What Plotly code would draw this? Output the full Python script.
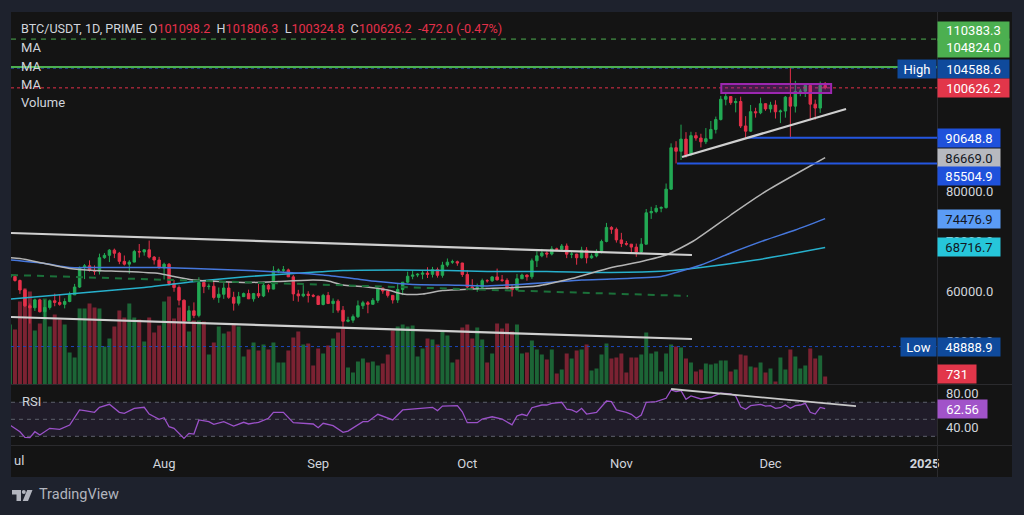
import plotly.graph_objects as go
from datetime import datetime, timedelta

# ---------------- DATA ----------------
start_date = datetime(2024, 7, 1)

opens = [
    62770, 62900, 62100, 60200, 57040, 56640, 58230, 55850, 56710, 58050, 57720, 57330, 57900, 59230, 60790, 64720,
    65040, 64090, 63970, 66660, 67140, 68170, 67550, 65930, 65370, 65780, 67900, 67810, 68240, 66780, 66190,
    64630, 65350, 61500, 60700, 58160, 54020, 56040, 55120, 61700, 60880, 60950, 58710, 59350, 60600, 58740, 57560,
    58870, 59480, 58430, 59480, 59010, 61160, 60380, 64040, 64160, 64220, 62830, 59420, 59030, 59370, 59120,
    58970, 57300, 59130, 57490, 57970, 56160, 53950, 54160, 54870, 57050, 57650, 57340, 58130, 60570, 60010,
    59130, 58210, 60310, 61760, 62950, 63200, 63350, 63580, 63330, 64260, 63140, 65180, 65770, 65860, 65600,
    63300, 60810, 60630, 60750, 62070, 62050, 62820, 62220, 62130, 60580, 60270, 62450, 63190, 62850, 66050, 67040,
    67610, 67400, 68420, 68360, 69000, 67370, 67380, 66650, 68160, 66640, 67010, 67930, 69910, 72720, 72340,
    70220, 69500, 69370, 68780, 67810, 69360, 75640, 75900, 76550, 76680, 80370, 88650, 87950, 90380, 87250,
    91070, 90590, 89850, 90460, 92310, 94290, 98350, 98890, 97670, 97900, 93010, 91970, 95860, 95640, 97460,
    96410, 97190, 95840, 96000, 98770, 96970, 99920, 99950, 101110, 97360, 96590, 101098.2,
]
highs = [
    63860, 63290, 62290, 60500, 57500, 58470, 58470, 58240, 58300, 59470, 59360, 58530, 59850, 61420, 64900, 65390,
    66130, 65120, 67470, 67600, 68370, 68480, 67820, 67100, 66170, 68230, 69400, 68320, 70080, 67000, 66830,
    65660, 65600, 62200, 61120, 58310, 57040, 57720, 62750, 61800, 61470, 61860, 60700, 61580, 61800, 59850, 59820,
    59690, 60270, 59620, 61400, 61820, 61420, 64960, 64500, 65000, 64480, 63210, 60230, 61170, 59950, 59430,
    59070, 59430, 59810, 58520, 58330, 56990, 54850, 55310, 58100, 58040, 57990, 58590, 60670, 60660, 60380,
    59210, 61380, 61790, 63870, 64130, 63560, 64000, 64750, 64820, 64700, 65840, 66500, 66260, 66080, 65620,
    64130, 62370, 61470, 62480, 62370, 62970, 64480, 63200, 62540, 61320, 63420, 63480, 63290, 66500, 67950, 68420,
    67940, 68970, 68670, 69400, 69500, 67840, 67450, 68850, 68770, 67470, 68340, 70270, 73620, 72960, 72700,
    71630, 70000, 69400, 69480, 70580, 76400, 76850, 77200, 76950, 81500, 89530, 89960, 93270, 91770, 91850,
    91780, 91450, 92590, 94000, 94880, 99030, 99590, 98970, 98560, 98870, 94970, 97210, 96650, 98670, 97500,
    97840, 98150, 96300, 99000, 104588.6, 102040, 100440, 101400, 101220, 98270, 101890, 101806.3,
]
lows = [
    62500, 61860, 59420, 56770, 53480, 56020, 55720, 54260, 56280, 56950, 57050, 56530, 57750, 59200, 60630, 62380,
    63890, 63220, 63300, 66440, 65780, 66570, 65360, 65100, 63460, 65740, 66690, 67070, 66500, 65300, 64500,
    62300, 61100, 59850, 57120, 48888.9, 53970, 54560, 54730, 59570, 60270, 58290, 57640, 58430, 58430, 56080, 57100,
    58790, 58410, 57870, 58610, 58780, 59720, 60340, 63590, 63790, 62800, 58030, 57860, 58750, 57700, 58740,
    57200, 57120, 57420, 55610, 55670, 52550, 53740, 53630, 54600, 56390, 55550, 57320, 57630, 59450, 58700,
    57490, 57610, 59170, 61570, 62350, 62770, 62360, 62600, 62700, 62680, 62670, 64810, 65420, 65050, 62820,
    60160, 60460, 59830, 60460, 61670, 61820, 62130, 61820, 60310, 58900, 60050, 62430, 62060, 62420, 64800, 66750,
    66670, 67120, 68020, 68110, 66570, 66570, 65260, 66500, 65520, 66450, 66740, 67520, 69730, 71440, 69680,
    68780, 69060, 67480, 66840, 67460, 69320, 74420, 75560, 75750, 76490, 80220, 85504.9, 86210, 86670, 87100,
    90060, 88720, 89380, 90370, 91500, 94110, 97130, 97240, 95730, 92600, 90648.8, 91810, 94680, 95360, 96050,
    95690, 94500, 93580, 94660, 90500, 95700, 98950, 98800, 94150, 94260, 95620, 100324.8,
]
closes = [
    62900, 62100, 60200, 57040, 56640, 58230, 55850, 56710, 58050, 57720, 57330, 57900, 59230, 60790, 64720, 65040,
    64090, 63970, 66660, 67140, 68170, 67550, 65930, 65370, 65780, 67900, 67810, 68240, 66780, 66190, 64630,
    65350, 61500, 60700, 58160, 54020, 56040, 55120, 61700, 60880, 60950, 58710, 59350, 60600, 58740, 57560, 58870,
    59480, 58430, 59480, 59010, 61160, 60380, 64040, 64160, 64220, 62830, 59420, 59030, 59370, 59120, 58970,
    57300, 59130, 57490, 57970, 56160, 53950, 54160, 54870, 57050, 57650, 57340, 58130, 60570, 60010, 59130,
    58210, 60310, 61760, 62950, 63200, 63350, 63580, 63330, 64260, 63140, 65180, 65770, 65860, 65600, 63300,
    60810, 60630, 60750, 62070, 62050, 62820, 62220, 62130, 60580, 60270, 62450, 63190, 62850, 66050, 67040, 67610,
    67400, 68420, 68360, 69000, 67370, 67380, 66650, 68160, 66640, 67010, 67930, 69910, 72720, 72340, 70220,
    69500, 69370, 68780, 67810, 69360, 75640, 75900, 76550, 76680, 80370, 88650, 87950, 90380, 87250, 91070,
    90590, 89850, 90460, 92310, 94290, 98350, 98890, 97670, 97900, 93010, 91970, 95860, 95640, 97460, 96410,
    97190, 95840, 96000, 98770, 96970, 99920, 99950, 101110, 97360, 96590, 101098.2, 100626.2,
]
volumes = [
    5460, 5005, 7553, 8736, 8463, 4914, 5551, 7826, 5278, 6370, 5915, 5460, 2912, 2457, 6916, 6916,
    7371, 7007, 6916, 3458, 4186, 5278, 6734, 6097, 7371, 6097, 5915, 3913, 6097, 4732, 5369,
    7553, 8008, 6006, 7007, 7644, 4823, 5824, 5824, 5733, 2730, 3822, 5278, 4641, 4823, 5460, 5278,
    2548, 3185, 3822, 3094, 3640, 3185, 3822, 2002, 2002, 3094, 4277, 4823, 3640, 3731, 1729,
    3276, 2821, 3549, 4186, 4732, 5096, 1547, 1092, 2093, 2366, 2002, 2093, 1729, 1911, 2730,
    4914, 5278, 5460, 5278, 5369, 2548, 3276, 4186, 4095, 3640, 4823, 4459, 2002, 2275, 5187,
    5460, 4186, 5187, 4095, 2002, 2821, 5551, 5096, 5551, 4823, 5460, 2821, 2912, 4004, 3185, 2730,
    2275, 3185, 1001, 1365, 2821, 2366, 3094, 3185, 3640, 1274, 1456, 2730, 3731, 2366, 2457,
    2821, 1092, 2457, 2457, 2730, 4732, 2821, 3003, 1183, 2821, 3640, 3458, 3367, 2366, 2002,
    1183, 1365, 1911, 1820, 1911, 2184, 2184, 1183, 1365, 2730, 2639, 1638, 1547, 2002, 1092,
    1456, 273, 2457, 1365, 3185, 2548, 1456, 1729, 3276, 2366, 2639, 731,
]

# moving averages (day offset from 1 Jul 2024, price)
ma50_days = [0, 2, 7, 12, 17, 23, 30, 33, 37, 42, 48, 54, 61, 64, 67, 71, 76, 79, 83, 87, 93, 96, 106, 113,
             121, 127, 132, 137.5, 145, 152, 159, 164]
ma50_vals = [66660, 66500, 65500, 64500, 64100, 63900, 63500, 62900, 62200, 61900, 61700, 61900, 62200, 62000,
             61200, 60900, 60200, 59400, 59400, 60100, 60400, 60500, 61000, 62500, 64700, 65900, 67200, 70000,
             75200, 79900, 83900, 86669.0]
ma100_days = [0, 7, 12, 17, 23, 30, 37, 48, 56, 63, 69, 74, 81, 88, 96, 108, 115, 121, 131, 134, 139, 145,
              152, 158, 164]
ma100_vals = [66200, 65500, 64700, 64700, 64700, 64700, 64500, 64100, 63700, 63200, 62500, 61900, 61300, 61200,
              61000, 61700, 62200, 62400, 62900, 63700, 65200, 67600, 70200, 72200, 74476.9]
ma200_days = [0, 13, 27, 38, 48, 57, 67, 78, 88, 96, 108, 121, 132, 139, 150, 157, 164]
ma200_vals = [58400, 59500, 60700, 62000, 62900, 63500, 64100, 64200, 64100, 63900, 63900, 63700, 64000, 64700,
              66200, 67400, 68716.7]

rsi_days = [0, 2, 3, 4, 5, 6, 8, 10, 12, 14, 15, 17, 18, 20, 22, 23, 25, 27, 28, 30, 31, 32, 33, 35, 36, 37,
            38, 40, 41, 43, 45, 47, 48, 50, 52, 53, 55, 57, 61, 62, 63, 65, 67, 68, 71, 72, 74, 77, 79, 84, 85,
            86, 87, 90, 91, 92, 94, 95, 97, 99, 101, 102, 103, 104, 105, 107, 108, 109, 111, 112, 113, 114, 115,
            116, 118, 120, 121, 122, 124, 125, 126, 127, 128, 130, 132, 133, 134, 135, 136, 137, 139, 141, 143,
            145, 146, 147, 148, 149, 151, 152, 153, 154, 155, 156, 157, 158, 159, 160, 161, 162, 163, 164]
rsi_vals = [43.3, 35.4, 28.8, 28.4, 35.4, 31.5, 39.4, 38.2, 43.3, 61.0, 60.2, 58.2, 64.1, 67.6, 58.2, 57.0,
            62.9, 64.1, 56.2, 50.0, 51.9, 41.3, 39.4, 27.6, 33.5, 32.7, 49.2, 47.2, 44.1, 47.2, 42.1, 46.5,
            44.5, 46.5, 51.2, 58.2, 58.2, 46.0, 44.5, 40.1, 45.3, 42.5, 34.7, 36.2, 47.2, 47.2, 55.9, 49.2,
            61.0, 62.9, 64.1, 60.2, 65.6, 66.0, 58.9, 46.0, 46.0, 50.3, 53.0, 50.3, 43.5, 53.9, 55.9, 54.2,
            63.6, 66.8, 66.8, 68.8, 70.0, 61.8, 61.0, 58.2, 62.9, 56.2, 58.2, 71.5, 70.7, 61.0, 58.2, 55.9,
            51.2, 55.1, 70.0, 70.7, 74.7, 84.5, 82.5, 83.6, 73.5, 77.4, 73.9, 75.9, 80.6, 79.8, 77.4, 64.8,
            61.8, 66.0, 67.6, 65.6, 66.0, 62.9, 63.6, 66.8, 62.9, 66.0, 66.8, 68.8, 58.2, 56.2, 64.0, 62.56]

# drawings (day offset, value)
channel_upper = [(0.2, 71600), (137.2, 67200)]
channel_lower = [(0.2, 54800), (137.2, 50400)]
dashed_trend = [(0.2, 63200), (136.4, 59000)]
rising_support = [(135.2, 86800), (168.2, 96400)]
rsi_trend = [(133.0, 85.6), (170.2, 65.6)]
purple_zone = [(143.1, 99600), (165.2, 101400)]

target_levels = [110383.3, 104824.0]
high_level = 104588.6
low_level = 48888.9
support_levels = [90648.8, 85504.9]
support_start_days = [148.3, 134.2]

month_ticks = ["2024-08-01", "2024-09-01", "2024-10-01", "2024-11-01", "2024-12-01", "2025-01-01"]
month_labels = ["Aug", "Sep", "Oct", "Nov", "Dec", "<b>2025</b>"]
price_ticks = [50000, 60000, 70000, 80000]
rsi_ticks = [40, 80]
rsi_bands = [70, 50, 30]

# ---------------- HELPERS ----------------
W, H = 1024, 515
ML, MR, MT, MB = 11, 87, 12, 70
PW, PH = W - ML - MR, H - MT - MB


def day(d):
    return start_date + timedelta(days=d)


def pxx(x):
    return (x - ML) / PW


def pxy(y):
    return (H - MB - y) / PH


OUTER = "#1e222d"
PANEL = "#141414"
TXT = "#d1d4dc"
UP, DOWN = "#22a954", "#e5304a"
VUP, VDOWN = "#1c6536", "#7b2232"
FONT = "Roboto"

main_bottom = pxy(384.5)
x_range = [day(0.2), day(186.5)]
dates = [day(i) for i in range(len(closes))]

fig = go.Figure()

# volume on the base axis (drawn beneath)
vcol = [VUP if c >= o else VDOWN for o, c in zip(opens, closes)]
fig.add_trace(go.Bar(x=dates, y=volumes, marker=dict(color=vcol, line=dict(width=0)),
                     width=0.8 * 86400000, xaxis="x", yaxis="y", hoverinfo="skip"))

# candles on the overlaying price axis
fig.add_trace(go.Candlestick(
    x=dates, open=opens, high=highs, low=lows, close=closes, xaxis="x", yaxis="y2",
    increasing=dict(line=dict(color=UP, width=1), fillcolor=UP),
    decreasing=dict(line=dict(color=DOWN, width=1), fillcolor=DOWN),
    whiskerwidth=0, hoverinfo="skip"))

for dd, vv, col in [(ma200_days, ma200_vals, "#27b0cc"), (ma100_days, ma100_vals, "#4677dc"),
                    (ma50_days, ma50_vals, "#b4b4b4")]:
    fig.add_trace(go.Scatter(x=[day(d) for d in dd], y=vv, mode="lines", xaxis="x", yaxis="y2",
                             line=dict(color=col, width=1.5, shape="spline", smoothing=0.6),
                             hoverinfo="skip"))

fig.add_trace(go.Scatter(x=[day(d) for d in rsi_days], y=rsi_vals, mode="lines", xaxis="x", yaxis="y3",
                         line=dict(color="#9b51c9", width=1.3), hoverinfo="skip"))

shapes = []
# panel background
shapes.append(dict(type="rect", xref="paper", yref="paper", x0=pxx(11), x1=pxx(1012), y0=pxy(477), y1=pxy(12),
                   fillcolor=PANEL, line=dict(width=0), layer="below"))
# RSI band
shapes.append(dict(type="rect", xref="paper", yref="y3", x0=0, x1=1, y0=rsi_bands[2], y1=rsi_bands[0],
                   fillcolor="rgba(126,87,194,0.12)", line=dict(width=0), layer="below"))
for b in rsi_bands:
    shapes.append(dict(type="line", xref="paper", yref="y3", x0=0, x1=1, y0=b, y1=b,
                       line=dict(color="#5d606b", width=1, dash="4px,4px"), layer="below"))

# horizontal levels
shapes.append(dict(type="line", xref="paper", yref="y2", x0=0, x1=1, y0=target_levels[0], y1=target_levels[0],
                   line=dict(color="#4caf50", width=1, dash="5px,5px")))
shapes.append(dict(type="line", xref="paper", yref="y2", x0=0, x1=1, y0=high_level, y1=high_level,
                   line=dict(color="#2a5bd8", width=1, dash="dot")))
shapes.append(dict(type="line", xref="paper", yref="y2", x0=0, x1=1, y0=target_levels[1], y1=target_levels[1],
                   line=dict(color="#4caf50", width=2)))
shapes.append(dict(type="line", xref="paper", yref="y2", x0=0, x1=1, y0=closes[-1], y1=closes[-1],
                   line=dict(color="#e5304a", width=1, dash="dot")))
shapes.append(dict(type="line", xref="paper", yref="y2", x0=0, x1=1, y0=low_level, y1=low_level,
                   line=dict(color="#1b47b8", width=1, dash="dot")))
for lv, sd in zip(support_levels, support_start_days):
    shapes.append(dict(type="line", xref="x", yref="y2", x0=day(sd), x1=x_range[1], y0=lv, y1=lv,
                       line=dict(color="#2456e0", width=2)))

# drawn trend lines
for seg in (channel_upper, channel_lower, rising_support):
    shapes.append(dict(type="line", xref="x", yref="y2", x0=day(seg[0][0]), y0=seg[0][1],
                       x1=day(seg[1][0]), y1=seg[1][1], line=dict(color="#cfcfcf", width=2.2)))
shapes.append(dict(type="line", xref="x", yref="y2", x0=day(dashed_trend[0][0]), y0=dashed_trend[0][1],
                   x1=day(dashed_trend[1][0]), y1=dashed_trend[1][1],
                   line=dict(color="#1b7039", width=2, dash="7px,6px")))
shapes.append(dict(type="line", xref="x", yref="y3", x0=day(rsi_trend[0][0]), y0=rsi_trend[0][1],
                   x1=day(rsi_trend[1][0]), y1=rsi_trend[1][1], line=dict(color="#c8c8c8", width=1.8)))
shapes.append(dict(type="rect", xref="x", yref="y2", x0=day(purple_zone[0][0]), y0=purple_zone[0][1],
                   x1=day(purple_zone[1][0]), y1=purple_zone[1][1],
                   fillcolor="rgba(156,39,176,0.35)", line=dict(color="#9c27b0", width=2)))

# separators
SEP = "#2b2b2e"
shapes.append(dict(type="line", xref="paper", yref="paper", x0=pxx(11), x1=pxx(1012), y0=main_bottom,
                   y1=main_bottom, line=dict(color=SEP, width=1)))
shapes.append(dict(type="line", xref="paper", yref="paper", x0=pxx(11), x1=pxx(1012), y0=pxy(445.5),
                   y1=pxy(445.5), line=dict(color=SEP, width=1)))
shapes.append(dict(type="line", xref="paper", yref="paper", x0=pxx(937.5), x1=pxx(937.5), y0=pxy(477),
                   y1=pxy(12), line=dict(color=SEP, width=1)))

# TradingView logo mark
LOGO = "#b2b5be"


def ppath(pts):
    return "M " + " L ".join(f"{pxx(a):.5f},{pxy(b):.5f}" for a, b in pts) + " Z"


shapes.append(dict(type="path", xref="paper", yref="paper",
                   path=ppath([(12, 490), (21, 490), (21, 501), (16.5, 501), (16.5, 494.5), (12, 494.5)]),
                   fillcolor=LOGO, line=dict(width=0)))
shapes.append(dict(type="circle", xref="paper", yref="paper", x0=pxx(21.8), x1=pxx(25.8), y0=pxy(494),
                   y1=pxy(490), fillcolor=LOGO, line=dict(width=0)))
shapes.append(dict(type="path", xref="paper", yref="paper",
                   path=ppath([(27.2, 490), (32.5, 490), (28, 501), (22.7, 501)]),
                   fillcolor=LOGO, line=dict(width=0)))

annotations = []


def box(text, yref, y, bg, fg, w, yshift=0, left=True, h=18):
    annotations.append(dict(
        text=text, xref="paper", x=pxx(937.5) if left else pxx(937), xanchor="left" if left else "right",
        yref=yref, y=y, yanchor="middle", yshift=yshift, showarrow=False, width=w, height=h,
        bgcolor=bg, borderpad=0, font=dict(family=FONT, size=13, color=fg), align="center",
        valign="middle"))


# right-side price labels
box(f"{target_levels[0]:.1f}", "y2", target_levels[0], "#4caf50", "#ffffff", 71, yshift=8.3, h=17.5)
box(f"{target_levels[1]:.1f}", "y2", target_levels[1], "#4caf50", "#ffffff", 71, yshift=18.6, h=17.5)
box(f"{high_level:.1f}", "y2", high_level, "#0f4a9c", "#ffffff", 71, yshift=-0.9)
box("High", "y2", high_level, "#0f4a9c", "#ffffff", 38, yshift=-0.9, left=False)
box(f"{closes[-1]:.1f}", "y2", closes[-1], "#e2364a", "#ffffff", 71)
box(f"{support_levels[0]:.1f}", "y2", support_levels[0], "#1f51db", "#ffffff", 62)
box(f"{ma50_vals[-1]:.1f}", "y2", ma50_vals[-1], "#b7b9bf", "#131722", 62)
box(f"{support_levels[1]:.1f}", "y2", support_levels[1], "#1f51db", "#ffffff", 62, yshift=-12.5)
box(f"{ma100_vals[-1]:.1f}", "y2", ma100_vals[-1], "#5b9cf6", "#131722", 62)
box(f"{ma200_vals[-1]:.1f}", "y2", ma200_vals[-1], "#26c6da", "#131722", 62)
box(f"{low_level:.1f}", "y2", low_level, "#0f4a9c", "#ffffff", 62)
box("Low", "y2", low_level, "#0f4a9c", "#ffffff", 35, left=False)
box(f"{volumes[-1]}", "y", volumes[-1], "#e2364a", "#ffffff", 38, yshift=2.5)
box(f"{rsi_vals[-1]:.2f}", "y3", rsi_vals[-1], "#a153c9", "#ffffff", 49)

# header legend
RED = "#e5304a"
chg = closes[-1] - opens[-1]
pct = chg / opens[-1] * 100
NB = "\u00a0"
hdr = (f"BTC/USDT, 1D, PRIME{NB}{NB}O<span style='color:{RED}'>{opens[-1]:.1f}</span>{NB}{NB}"
       f"H<span style='color:{RED}'>{highs[-1]:.1f}</span>{NB}{NB}"
       f"L<span style='color:{RED}'>{lows[-1]:.1f}</span>{NB}{NB}"
       f"C<span style='color:{RED}'>{closes[-1]:.1f}</span>{NB}{NB}"
       f"<span style='color:{RED}'>{chg:.1f} ({pct:.2f}%)</span>")


def txt(text, x, y, size=13, color=TXT, anchor="left"):
    annotations.append(dict(text=text, xref="paper", yref="paper", x=pxx(x), y=pxy(y), xanchor=anchor,
                            yanchor="middle", showarrow=False, font=dict(family=FONT, size=size, color=color)))


txt(hdr, 19, 28, size=12.6)
txt("MA", 19, 47.5)
txt("MA", 19, 66)
txt("MA", 19, 84.5)
txt("Volume", 19, 102.5)
txt("RSI", 19.5, 401.5)
txt("ul", 11.5, 461)
txt("TradingView", 37, 495, size=14.5, color=LOGO)

axis_font = dict(family=FONT, size=13, color=TXT)
fig.update_layout(
    width=W, height=H,
    margin=dict(l=ML, r=MR, t=MT, b=MB, pad=0),
    paper_bgcolor=OUTER, plot_bgcolor=PANEL,
    showlegend=False, hovermode=False,
    font=dict(family=FONT, size=13, color=TXT),
    bargap=0.2,
    xaxis=dict(domain=[0, 1], anchor="y3", type="date", range=x_range, showgrid=False, zeroline=False,
               showline=False, tickmode="array", tickvals=month_ticks, ticktext=month_labels, ticks="",
               ticklabelstandoff=9, tickfont=axis_font, rangeslider=dict(visible=False), fixedrange=True),
    yaxis=dict(domain=[main_bottom, 1], anchor="x", range=[0, 33900], visible=False, fixedrange=True),
    yaxis2=dict(overlaying="y", anchor="x", side="right", range=[41300, 115800], showgrid=False,
                zeroline=False, showline=False, tickmode="array", tickvals=price_ticks, tickformat=".1f",
                ticks="", ticklabelstandoff=8, tickfont=axis_font, fixedrange=True),
    yaxis3=dict(domain=[0, main_bottom], anchor="x", side="right", range=[19.8, 90.9], showgrid=False,
                zeroline=False, showline=False, tickmode="array", tickvals=rsi_ticks, tickformat=".2f",
                ticks="", ticklabelstandoff=8, tickfont=axis_font, fixedrange=True),
    shapes=shapes,
    annotations=annotations,
)

fig.write_html("out.html", config={"displayModeBar": False, "staticPlot": True},
               post_script="document.body.style.margin='0';document.body.style.overflow='hidden';")
